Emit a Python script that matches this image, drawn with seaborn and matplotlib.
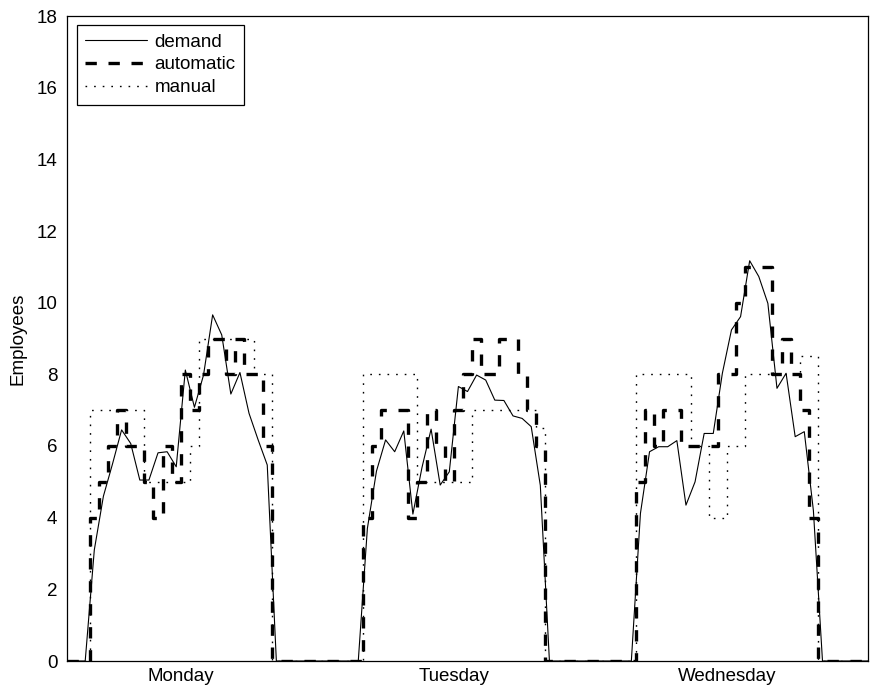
import numpy as np
import pandas as pd
import matplotlib
matplotlib.use("Agg")
import matplotlib.pyplot as plt
import seaborn as sns

# ---- data (30 time slots per day) ----
days = ["Monday", "Tuesday", "Wednesday"]
day_centers = [12.5, 42.5, 72.5]

demand_mon = [0, 0, 0, 3.1, 4.6, 5.5, 6.45, 6.07, 5.05, 5.05, 5.81, 5.84, 5.42,
              8.12, 7.08, 7.98, 9.66, 9.1, 7.45, 8.05, 6.91, 6.17, 5.47,
              0, 0, 0, 0, 0, 0, 0]
demand_tue = [0, 0, 0, 3.7, 5.3, 6.17, 5.84, 6.42, 4.1, 5.4, 6.47, 4.91, 5.28,
              7.66, 7.52, 7.98, 7.84, 7.28, 7.27, 6.84, 6.77, 6.54, 4.9,
              0, 0, 0, 0, 0, 0, 0]
demand_wed = [0, 0, 0, 4.12, 5.84, 5.98, 5.98, 6.15, 4.35, 5.0, 6.35, 6.35, 8.03,
              9.24, 9.61, 11.17, 10.73, 9.98, 7.61, 8.03, 6.26, 6.4, 4.2,
              0, 0, 0, 0, 0, 0, 0]

auto_mon = [0, 0, 0, 4, 5, 6, 7, 6, 6, 5, 4, 6, 5,
            8, 7, 8, 9, 9, 8, 9, 8, 8, 6,
            0, 0, 0, 0, 0, 0, 0]
auto_tue = [0, 0, 0, 4, 6, 7, 7, 7, 4, 5, 7, 6, 5,
            7, 8, 9, 8, 8, 9, 9, 8, 7, 6,
            0, 0, 0, 0, 0, 0, 0]
auto_wed = [0, 0, 0, 5, 7, 6, 7, 7, 6, 6, 6, 6, 8,
            8, 10, 11, 11, 11, 8, 9, 8, 7, 4,
            0, 0, 0, 0, 0, 0, 0]

manual_mon = [0, 0, 0, 7, 7, 7, 7, 7, 7, 5, 5, 5, 5,
              5, 6, 9, 9, 9, 9, 9, 9, 8, 8,
              0, 0, 0, 0, 0, 0, 0]
manual_tue = [0, 0, 0, 8, 8, 8, 8, 8, 8, 5, 5, 5, 5,
              5, 5, 7, 7, 7, 7, 7, 7, 7, 6.5,
              0, 0, 0, 0, 0, 0, 0]
manual_wed = [0, 0, 0, 8, 8, 8, 8, 8, 8, 6, 6, 4, 4,
              6, 6, 8, 8, 8, 8, 8, 8, 8.5, 8.5,
              0, 0, 0, 0, 0, 0, 0]

demand = demand_mon + demand_tue + demand_wed
automatic = auto_mon + auto_tue + auto_wed
manual = manual_mon + manual_tue + manual_wed
slots = np.arange(len(demand))

df = pd.DataFrame({"slot": slots, "demand": demand,
                   "automatic": automatic, "manual": manual})

# ---- style ----
sns.set_theme(style="white")
plt.rcParams['font.family'] = ['Liberation Sans', 'DejaVu Sans']
plt.rcParams['font.size'] = 13.5
plt.rcParams['text.color'] = 'black'
plt.rcParams['axes.labelcolor'] = 'black'
plt.rcParams['xtick.color'] = 'black'
plt.rcParams['ytick.color'] = 'black'

fig = plt.figure(figsize=(8.77, 6.91), dpi=100)
ax = fig.add_axes([67 / 877, 1 - 661 / 691, 801 / 877, 645 / 691])

sns.lineplot(data=df, x="slot", y="demand", ax=ax, color="black", lw=0.8,
             estimator=None, label="demand")
sns.lineplot(data=df, x="slot", y="automatic", ax=ax, color="black", lw=2.4,
             linestyle=(0, (3.4, 3.5)), drawstyle="steps-mid",
             estimator=None, label="automatic")
sns.lineplot(data=df, x="slot", y="manual", ax=ax, color="black", lw=1.0,
             linestyle=(0, (1.2, 5.0)), drawstyle="steps-mid",
             estimator=None, label="manual")

ax.set_xlim(0, 88)
ax.set_ylim(0, 18)
ax.set_yticks(np.arange(0, 19, 2))
ax.set_xticks(day_centers)
ax.set_xticklabels(days)
ax.set_xlabel("")
ax.set_ylabel("Employees", fontsize=13.5, color="black")
ax.yaxis.set_label_coords(-0.05, 0.5)

ax.tick_params(axis="y", direction="in", length=5.8, width=0.8,
               labelsize=13.5, pad=7, colors="black")
ax.tick_params(axis="x", length=0, labelsize=13.5, pad=5, colors="black")
for sp in ax.spines.values():
    sp.set_color("black")
    sp.set_linewidth(0.9)
    sp.set_visible(True)

leg = ax.legend(loc="upper left", bbox_to_anchor=(0.012, 0.986),
                borderaxespad=0, fancybox=False, framealpha=1,
                edgecolor="black", fontsize=13.5, handlelength=3.3,
                handletextpad=0.4, labelspacing=0.3, borderpad=0.45)
leg.get_frame().set_linewidth(0.9)
for t in leg.get_texts():
    t.set_color("black")

fig.savefig("out.png", dpi=100, facecolor="white")
